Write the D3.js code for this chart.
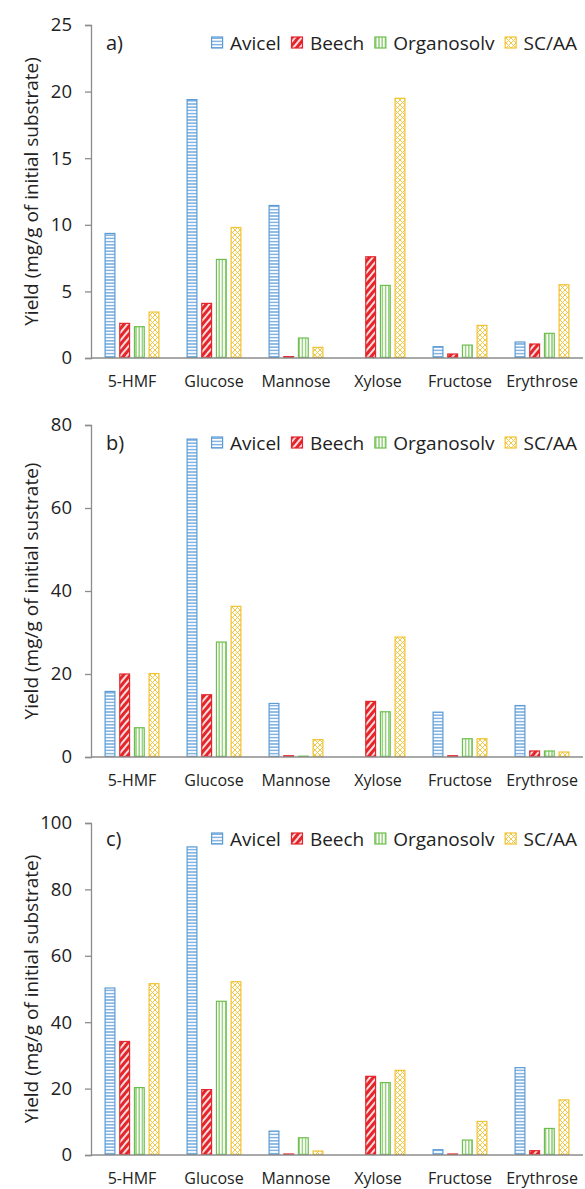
<!DOCTYPE html>
<html>
<head>
<meta charset="utf-8">
<script src="https://cdn.jsdelivr.net/npm/d3@7/dist/d3.min.js"></script>
<style>
  html, body { margin: 0; padding: 0; background: #fff; }
  svg { display: block; }
  text { font-family: "Open Sans", "DejaVu Sans", sans-serif; fill: #222; }
</style>
</head>
<body>
<div id="chart"></div>
<script>
// sugar yields, three panels a) b) c)
const categories = ['5-HMF', 'Glucose', 'Mannose', 'Xylose', 'Fructose', 'Erythrose'];
const seriesNames = ['Avicel', 'Beech', 'Organosolv', 'SC/AA'];

// panel a)
const avicelA     = [9.35, 19.4, 11.45, 0, 0.85, 1.2];
const beechA      = [2.6, 4.1, 0.1, 7.6, 0.3, 1.05];
const organosolvA = [2.35, 7.4, 1.5, 5.45, 0.97, 1.85];
const scaaA       = [3.45, 9.8, 0.8, 19.5, 2.45, 5.5];
const ticksA = [0, 5, 10, 15, 20, 25];

// panel b)
const avicelB     = [15.8, 76.6, 12.9, 0, 10.8, 12.4];
const beechB      = [20.0, 15.0, 0.3, 13.4, 0.3, 1.45];
const organosolvB = [7.05, 27.7, 0.2, 10.9, 4.4, 1.45];
const scaaB       = [20.1, 36.3, 4.2, 28.9, 4.4, 1.2];
const ticksB = [0, 20, 40, 60, 80];

// panel c)
const avicelC     = [50.3, 92.8, 7.2, 0, 1.6, 26.3];
const beechC      = [34.2, 19.7, 0.3, 23.7, 0.3, 1.3];
const organosolvC = [20.3, 46.3, 5.2, 21.8, 4.5, 8.0];
const scaaC       = [51.6, 52.2, 1.2, 25.5, 10.1, 16.6];
const ticksC = [0, 20, 40, 60, 80, 100];

const panelLabels = ['a)', 'b)', 'c)'];
const yTitles = [
    'Yield (mg/g of initial substrate)',
    'Yield (mg/g of initial sustrate)',
    'Yield (mg/g of initial substrate)'
];

const colors = { Avicel: '#5b9bd5', Beech: '#e3262b', Organosolv: '#6cbf4c', 'SC/AA': '#f1c232' };
const patternIds = { Avicel: 'p-avicel', Beech: 'p-beech', Organosolv: 'p-organo', 'SC/AA': 'p-scaa' };

const panels = [
    { label: panelLabels[0], title: yTitles[0], ticks: ticksA, series: [avicelA, beechA, organosolvA, scaaA], zero: 358, top: 25, legendY: 43 },
    { label: panelLabels[1], title: yTitles[1], ticks: ticksB, series: [avicelB, beechB, organosolvB, scaaB], zero: 757, top: 425, legendY: 443 },
    { label: panelLabels[2], title: yTitles[2], ticks: ticksC, series: [avicelC, beechC, organosolvC, scaaC], zero: 1155, top: 823, legendY: 839 }
];

const W = 585, H = 1189;
const axisX = 91, rightX = 583;

const svg = d3.select('#chart').append('svg')
    .attr('width', W)
    .attr('height', H);

// hatch patterns
const defs = svg.append('defs');

const pAv = defs.append('pattern').attr('id', patternIds.Avicel)
    .attr('patternUnits', 'userSpaceOnUse').attr('width', 6).attr('height', 3.2);
pAv.append('rect').attr('width', 6).attr('height', 3.2).attr('fill', '#fff');
pAv.append('line').attr('x1', 0).attr('x2', 6).attr('y1', 1.6).attr('y2', 1.6)
    .attr('stroke', colors.Avicel).attr('stroke-width', 1.2);

const pBe = defs.append('pattern').attr('id', patternIds.Beech)
    .attr('patternUnits', 'userSpaceOnUse').attr('width', 5).attr('height', 5)
    .attr('patternTransform', 'rotate(40)');
pBe.append('rect').attr('width', 5).attr('height', 5).attr('fill', colors.Beech);
pBe.append('line').attr('x1', 1).attr('x2', 1).attr('y1', 0).attr('y2', 5)
    .attr('stroke', '#fff').attr('stroke-width', 1.7);

const pOr = defs.append('pattern').attr('id', patternIds.Organosolv)
    .attr('patternUnits', 'userSpaceOnUse').attr('width', 3.2).attr('height', 6);
pOr.append('rect').attr('width', 3.2).attr('height', 6).attr('fill', '#fff');
pOr.append('line').attr('y1', 0).attr('y2', 6).attr('x1', 1.6).attr('x2', 1.6)
    .attr('stroke', colors.Organosolv).attr('stroke-width', 1.1);

const pSc = defs.append('pattern').attr('id', patternIds['SC/AA'])
    .attr('patternUnits', 'userSpaceOnUse').attr('width', 5).attr('height', 5);
pSc.append('rect').attr('width', 5).attr('height', 5).attr('fill', '#fff');
pSc.append('path').attr('d', 'M0,0 L5,5 M5,0 L0,5')
    .attr('stroke', colors['SC/AA']).attr('stroke-width', 0.9).attr('fill', 'none');

const x = d3.scaleBand().domain(categories).range([axisX, rightX]);
const groupW = 55;
const xi = d3.scaleBand().domain(seriesNames).range([0, groupW]).paddingInner(0.25);
const groupOff = (x.bandwidth() - groupW) / 2;

panels.forEach(p => {
    const y = d3.scaleLinear().domain([0, d3.max(p.ticks)]).range([p.zero, p.top]);
    const g = svg.append('g');

    // y axis
    const yAxis = g.append('g')
        .attr('transform', `translate(${axisX},0)`)
        .call(d3.axisLeft(y).tickValues(p.ticks).tickSize(6).tickPadding(13));
    yAxis.select('.domain').attr('stroke', '#8c8c8c').attr('stroke-width', 1.3);
    yAxis.selectAll('.tick line').attr('stroke', '#8c8c8c').attr('stroke-width', 1.3);
    yAxis.selectAll('.tick text')
        .attr('font-size', 18.5).attr('fill', '#222')
        .attr('font-family', '"Open Sans", sans-serif');

    // bars
    seriesNames.forEach((s, si) => {
        const vals = p.series[si];
        g.append('g').selectAll('rect')
            .data(categories.map((c, ci) => ({ c, v: vals[ci] })).filter(d => d.v > 0))
            .enter()
            .append('rect')
            .attr('x', d => x(d.c) + groupOff + xi(s) + 0.6)
            .attr('width', xi.bandwidth() - 1.2)
            .attr('y', d => y(d.v))
            .attr('height', d => Math.max(0, y(0) - y(d.v) - 0.6))
            .attr('fill', `url(#${patternIds[s]})`)
            .attr('stroke', colors[s])
            .attr('stroke-width', 1.2);
    });

    // baseline
    g.append('line')
        .attr('x1', axisX).attr('x2', rightX)
        .attr('y1', y(0)).attr('y2', y(0))
        .attr('stroke', '#8c8c8c').attr('stroke-width', 1.3);

    // x labels
    g.append('g').selectAll('text')
        .data(categories)
        .enter()
        .append('text')
        .attr('x', d => x(d) + x.bandwidth() / 2)
        .attr('y', y(0) + 29)
        .attr('text-anchor', 'middle')
        .attr('font-size', 16)
        .text(d => d);

    // y title
    g.append('text')
        .attr('transform', `translate(38,${(p.zero + p.top) / 2}) rotate(-90)`)
        .attr('text-anchor', 'middle')
        .attr('font-size', 19)
        .text(p.title);

    // panel label
    g.append('text')
        .attr('x', 106)
        .attr('y', p.legendY + 7)
        .attr('font-size', 20)
        .text(p.label);

    // legend
    const leg = g.append('g').attr('transform', `translate(211,${p.legendY})`);
    let lx = 0;
    seriesNames.forEach(s => {
        leg.append('rect')
            .attr('x', lx + 0.6).attr('y', -6)
            .attr('width', 11).attr('height', 11)
            .attr('fill', `url(#${patternIds[s]})`)
            .attr('stroke', colors[s]).attr('stroke-width', 1.2);
        const t = leg.append('text')
            .attr('x', lx + 19).attr('y', 6.5)
            .attr('font-size', 19)
            .text(s);
        lx += 19 + t.node().getComputedTextLength() + 10;
    });
});
</script>
</body>
</html>
